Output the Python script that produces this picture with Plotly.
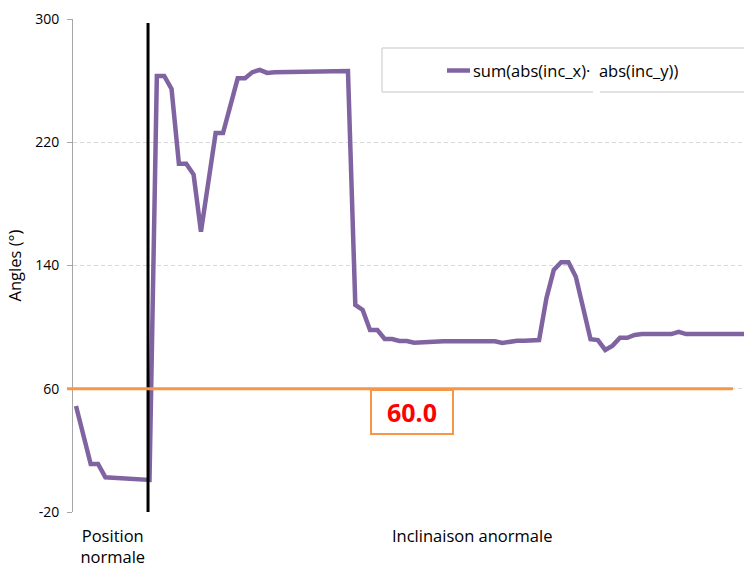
import plotly.graph_objects as go

# ---- data ----
angles = [
    48.8, 30.0, 11.2, 11.2, 2.5, 2.2, 1.8, 1.5, 1.2, 1.0,
    0.8, 263.0, 263.0, 254.6, 206.0, 206.0, 199.0, 162.0, 195.0, 226.0,
    226.0, 244.0, 261.5, 261.5, 265.5, 267.0, 265.0, 265.5, 265.5, 265.5,
    265.5, 265.5, 265.6, 265.7, 265.8, 266.0, 266.2, 266.2, 114.4, 111.1,
    98.1, 98.1, 92.3, 92.3, 91.0, 91.0, 89.9, 90.3, 90.3, 90.5,
    90.8, 90.8, 90.8, 90.8, 90.8, 90.8, 90.8, 90.8, 89.7, 90.5,
    91.2, 91.2, 91.2, 91.6, 118.7, 137.1, 142.1, 142.1, 132.7, 112.0,
    92.1, 91.6, 85.2, 88.0, 93.1, 93.1, 94.9, 95.5, 95.5, 95.5,
    95.5, 95.5, 97.0, 95.5, 95.5, 95.5, 95.5, 95.5, 95.5, 95.5,
    95.5, 95.5, 95.5,
]
sample_index = list(range(len(angles)))
series_name = "sum(abs(inc_x)·  abs(inc_y))"

separator_x = [9.8, 9.8]
separator_y = [-20, 297.4]

threshold = 60.0

phase_positions = [5.0, 53.9]
phase_labels = ["Position<br>normale", "Inclinaison anormale"]

y_ticks = [-20, 60, 140, 220, 300]

FONT = "'Open Sans', sans-serif"
PURPLE = "#8064A2"
ORANGE = "#F79646"

fig = go.Figure()
fig.add_trace(go.Scatter(
    x=sample_index, y=angles, mode="lines", name=series_name,
    line=dict(color=PURPLE, width=4.5), showlegend=False,
))
fig.add_trace(go.Scatter(
    x=separator_x, y=separator_y, mode="lines",
    line=dict(color="black", width=3), showlegend=False,
))

# threshold line (extends slightly left of the axis, like the reference)
fig.add_shape(type="line", xref="paper", yref="y",
              x0=-0.009, x1=0.9836, y0=threshold, y1=threshold,
              line=dict(color=ORANGE, width=3), layer="above")

# threshold label box
fig.add_annotation(xref="paper", yref="y", x=0.5045, y=threshold,
                   xanchor="center", yanchor="top",
                   text=f"<b>{threshold:.1f}</b>", showarrow=False,
                   font=dict(family=FONT, size=25, color="#FF0000"),
                   bgcolor="white", bordercolor=ORANGE, borderwidth=2,
                   borderpad=0, width=80, height=42)

# legend box (cut off by the right edge in the reference)
lx0 = (382 - 73) / 671
lx_gap0 = (593 - 73) / 671
lx_gap1 = (600 - 73) / 671
lx1 = 1.2
ly0 = 1 - (48 - 19) / 493
ly1 = 1 - (92 - 19) / 493
box_line = dict(color="#D9D9D9", width=1.5)
fig.add_shape(type="line", xref="paper", yref="paper", x0=lx0, x1=lx1, y0=ly0, y1=ly0, line=box_line)
fig.add_shape(type="line", xref="paper", yref="paper", x0=lx0, x1=lx0, y0=ly0, y1=ly1, line=box_line)
fig.add_shape(type="line", xref="paper", yref="paper", x0=lx0, x1=lx_gap0, y0=ly1, y1=ly1, line=box_line)
fig.add_shape(type="line", xref="paper", yref="paper", x0=lx_gap1, x1=lx1, y0=ly1, y1=ly1, line=box_line)
ly_mid = 1 - (70.5 - 19) / 493
fig.add_shape(type="line", xref="paper", yref="paper",
              x0=(447 - 73) / 671, x1=(470 - 73) / 671, y0=ly_mid, y1=ly_mid,
              line=dict(color=PURPLE, width=4.5))
fig.add_annotation(xref="paper", yref="paper", x=(471 - 73) / 671, y=ly_mid,
                   xanchor="left", yanchor="middle", showarrow=False,
                   text=series_name, font=dict(family=FONT, size=16.5, color="black"))

fig.update_layout(
    width=744, height=569,
    margin=dict(l=73, r=0, t=19, b=57),
    paper_bgcolor="white", plot_bgcolor="white",
    font=dict(family=FONT, size=14, color="black"),
    showlegend=False,
)
fig.update_yaxes(
    range=[-20, 300], tickvals=y_ticks, ticktext=[str(v) for v in y_ticks],
    showgrid=True, gridcolor="#D9D9D9", griddash="4px,3px", gridwidth=1,
    showline=True, linecolor="#A6A6A6", linewidth=1,
    ticks="outside", ticklen=5, tickcolor="#A6A6A6",
    zeroline=False, tickfont=dict(size=14), ticklabelstandoff=5,
    title=dict(text="Angles (°)", font=dict(size=16.5), standoff=9),
)
fig.update_xaxes(
    range=[-0.408, 90.88], tickvals=phase_positions, ticktext=phase_labels,
    showgrid=False, showline=False, zeroline=False, ticks="",
    tickfont=dict(size=16.5), ticklabelstandoff=12,
)

fig.write_html("out.html", config={"displayModeBar": False},
               post_script="document.body.style.margin='0';")
